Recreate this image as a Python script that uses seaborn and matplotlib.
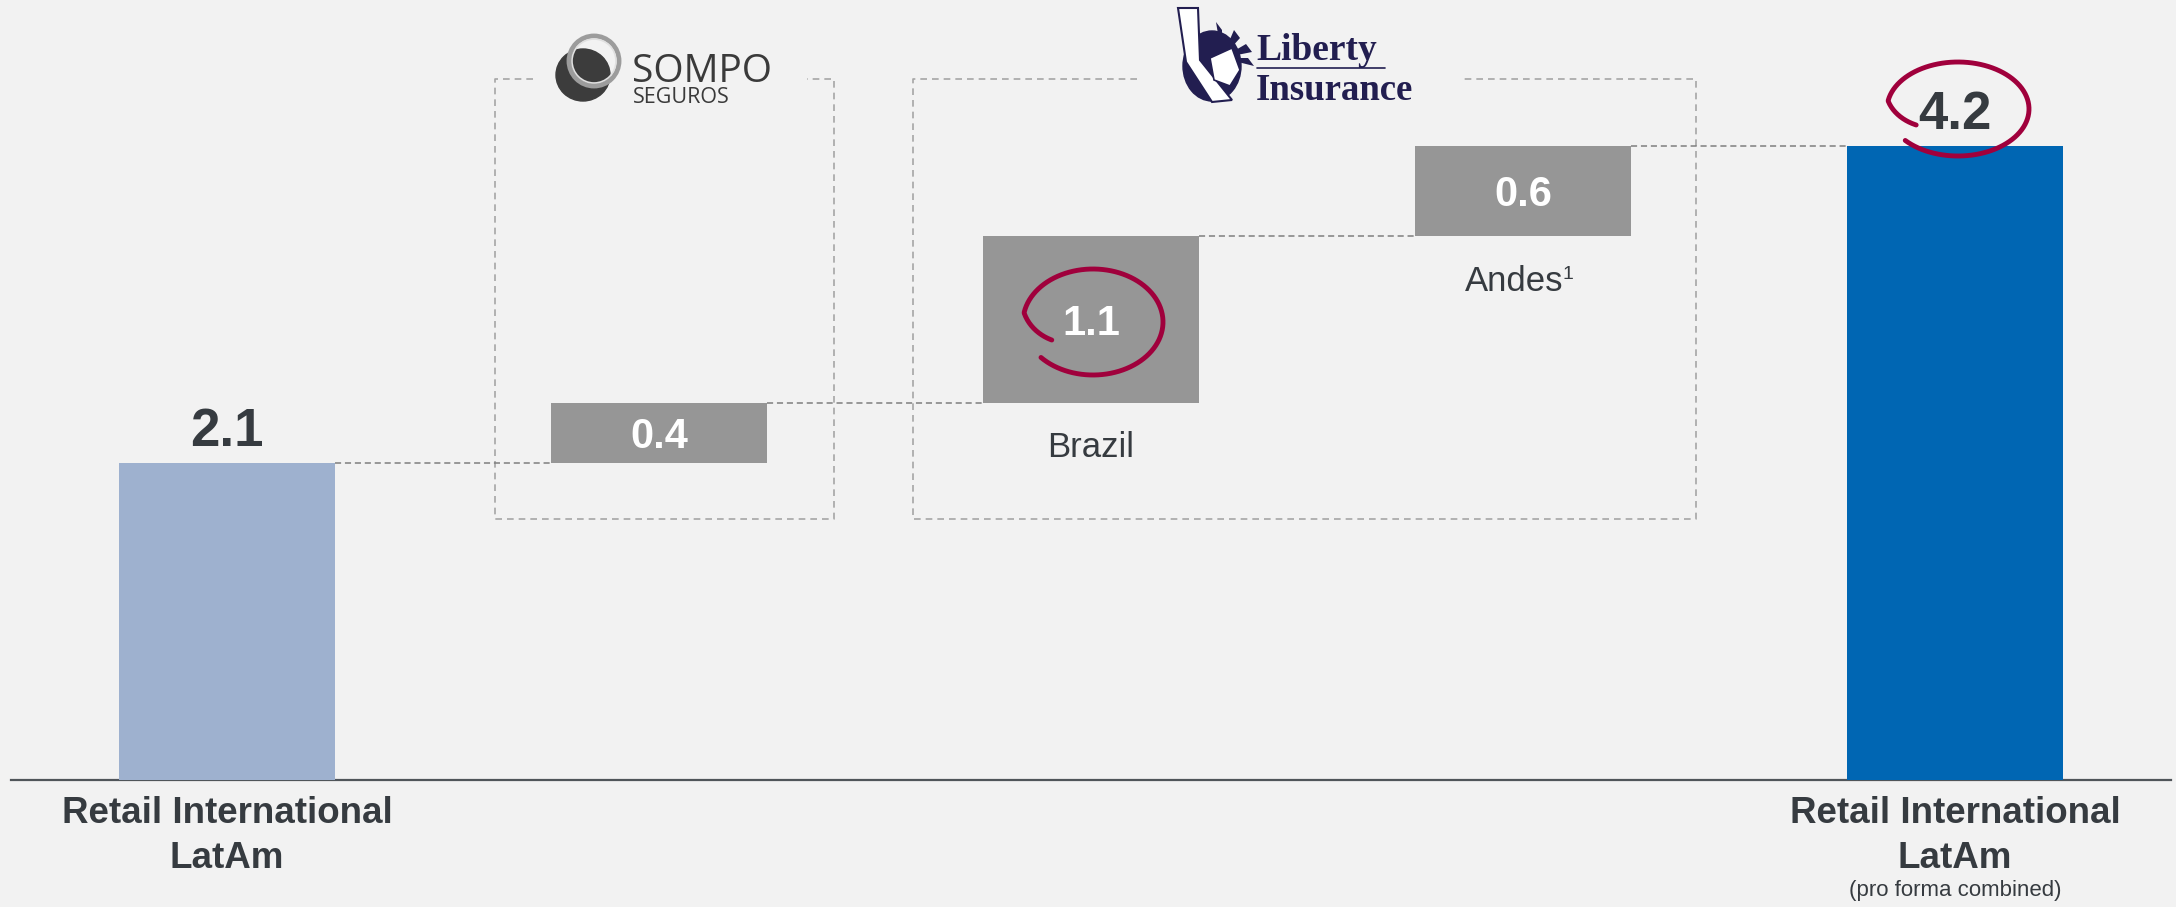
import numpy as np
import matplotlib
matplotlib.use("Agg")
import matplotlib.pyplot as plt
import seaborn as sns
from matplotlib.patches import Ellipse, Polygon

# Waterfall data (EUR bn)
steps = ["Retail International LatAm", "Sompo", "Brazil", "Andes", "Combined"]
values = [2.1, 0.4, 1.1, 0.6, 4.2]
kinds = ["total", "delta", "delta", "delta", "total"]
step_labels = ["", "", "Brazil", "Andes", ""]
footnotes = ["", "", "", "1", ""]
bar_colors = ["#9eb1cf", "#969696", "#969696", "#969696", "#0066b3"]

BG = "#f2f2f2"
TXT = "#363b40"
RED = "#a0003c"

sns.set_theme(style="white")
plt.rcParams["font.family"] = ["Liberation Sans", "DejaVu Sans"]

fig = plt.figure(figsize=(21.76, 9.07), dpi=100, facecolor=BG)
ax = fig.add_axes([11 / 2176, 127 / 907, 2160 / 2176, 780 / 907])
ax.set_facecolor(BG)
ax.set_xlim(-0.5, 4.5)
ax.set_ylim(0, 780 / 151)


# pixel helpers for decorations (logos, boxes, loops)
def px_x(px):
    return (px - 227) / 432


def px_y(py):
    return (780 - py) / 151


# bottoms of the floating bars
bottoms = []
running = 0
for v, k in zip(values, kinds):
    if k == "total":
        bottoms.append(0)
        running = v
    else:
        bottoms.append(running)
        running += v

x = np.arange(len(values))
ax.bar(x, values, bottom=bottoms, width=0.5, color=bar_colors, edgecolor="none", zorder=3)

# connectors
tops = [b + v for b, v in zip(bottoms, values)]
for i in range(len(values) - 1):
    ax.plot([x[i] + 0.25, x[i + 1] - 0.25], [tops[i], tops[i]], color="#7f7f7f",
            lw=1.1, ls=(0, (4, 2.5)), zorder=2)

# value labels
for i, (v, k) in enumerate(zip(values, kinds)):
    if k == "total":
        ax.text(x[i], tops[i] + 0.11, f"{v:.1f}", ha="center", va="baseline",
                fontsize=38, fontweight="bold", color=TXT, zorder=5)
    else:
        mid = bottoms[i] + v / 2
        ax.text(x[i], mid - 0.1, f"{v:.1f}", ha="center", va="baseline",
                fontsize=30, fontweight="bold", color="white", zorder=5)
        if step_labels[i]:
            shift = -9 / 432 if footnotes[i] else 0
            ax.text(x[i] + shift, bottoms[i] - 0.36, step_labels[i], ha="center", va="baseline",
                    fontsize=25, color=TXT)
        if footnotes[i]:
            ax.text(x[i] + 39 / 432, bottoms[i] - 0.36 + 12 / 151, footnotes[i], ha="left",
                    va="baseline", fontsize=14, color=TXT)

# category labels under the axis
for i in (0, 4):
    ax.text(x[i], px_y(823), "Retail International", ha="center", va="baseline",
            fontsize=26.5, fontweight="bold", color=TXT)
    ax.text(x[i], px_y(868), "LatAm", ha="center", va="baseline",
            fontsize=26.5, fontweight="bold", color=TXT)
ax.text(x[4], px_y(896), "(pro forma combined)", ha="center", va="baseline",
        fontsize=16, color=TXT)


# dashed group boxes with a gap for the logo
def dashed_box(l, r, t, b, gl, gr):
    kw = dict(color="#a6a6a6", lw=1.2, ls=(0, (4, 3)), zorder=1, clip_on=False)
    ax.plot([px_x(gl), px_x(l), px_x(l), px_x(r), px_x(r), px_x(gr)],
            [px_y(t), px_y(t), px_y(b), px_y(b), px_y(t), px_y(t)], **kw)


dashed_box(495, 834, 79, 519, 533, 807)
dashed_box(913, 1696, 79, 519, 1137, 1463)

# Sompo logo
ax.add_patch(Ellipse((px_x(583), px_y(75)), 54 / 432, 52 / 151, color="#3c3c3c", zorder=4, clip_on=False))
ax.add_patch(Ellipse((px_x(594), px_y(61)), 50 / 432, 50 / 151, fill=False, ec="#9c9c9c", lw=3.5, zorder=4, clip_on=False))
ax.add_patch(Ellipse((px_x(594), px_y(61)), 44 / 432, 44 / 151, fill=False, ec="#e0e0e0", lw=1.2, zorder=4, clip_on=False))
ax.text(px_x(632), px_y(82), "SOMPO", ha="left", va="baseline", fontsize=28,
        family=["Open Sans", "DejaVu Sans"], color="#3a3a3a")
ax.text(px_x(633), px_y(103), "SEGUROS", ha="left", va="baseline", fontsize=15.5,
        family=["Open Sans", "DejaVu Sans"], color="#3a3a3a")

# Liberty logo
NAVY = "#221e50"
for sx, sy in [(1216, 22), (1234, 30), (1246, 44), (1248, 58)]:
    ax.add_patch(Polygon([(px_x(1222), px_y(58)), (px_x(sx), px_y(sy)), (px_x(sx + 6), px_y(sy + 8))],
                         closed=True, fc=NAVY, ec="none", zorder=4, clip_on=False))
ax.add_patch(Ellipse((px_x(1212), px_y(66)), 58 / 432, 70 / 151, color=NAVY, zorder=4, clip_on=False))
ax.add_patch(Polygon([(px_x(1178), px_y(8)), (px_x(1198), px_y(8)), (px_x(1200), px_y(60)),
                      (px_x(1232), px_y(100)), (px_x(1212), px_y(102)), (px_x(1186), px_y(62))],
                     closed=True, fc="white", ec=NAVY, lw=1.5, zorder=5, clip_on=False))
ax.add_patch(Polygon([(px_x(1210), px_y(58)), (px_x(1232), px_y(48)), (px_x(1240), px_y(70)),
                      (px_x(1230), px_y(86)), (px_x(1214), px_y(80))],
                     closed=True, fc="white", ec=NAVY, lw=1.2, zorder=5, clip_on=False))
ax.text(px_x(1256), px_y(60), "Liberty", ha="left", va="baseline", fontsize=27,
        fontweight="bold", family=["Liberation Serif", "DejaVu Serif"], color=NAVY)
ax.text(px_x(1256), px_y(100), "Insurance", ha="left", va="baseline", fontsize=26.5,
        fontweight="bold", family=["Liberation Serif", "DejaVu Serif"], color=NAVY)
ax.plot([px_x(1257), px_x(1385)], [px_y(68), px_y(68)], color=NAVY, lw=1.2, clip_on=False)


# hand-drawn loops
def loop(cx, cy, rx, ry):
    t = np.radians(np.linspace(222, 570, 300))
    r = np.where(t < np.radians(530), 1.0, 1.0 - 0.32 * (t - np.radians(530)) / np.radians(40))
    xs = cx + rx * r * np.cos(t)
    ys = cy - ry * r * np.sin(t)
    ax.plot(px_x(xs), px_y(ys), color=RED, lw=3.5, solid_capstyle="round", zorder=6, clip_on=False)


loop(1093, 322, 70, 53)
loop(1958, 109, 71, 47)

sns.despine(ax=ax, left=True, top=True, right=True)
ax.spines["bottom"].set_color("#50555a")
ax.spines["bottom"].set_linewidth(1.6)
ax.set_xticks([])
ax.set_yticks([])
ax.grid(False)

fig.savefig("out.png", dpi=100, facecolor=BG)
